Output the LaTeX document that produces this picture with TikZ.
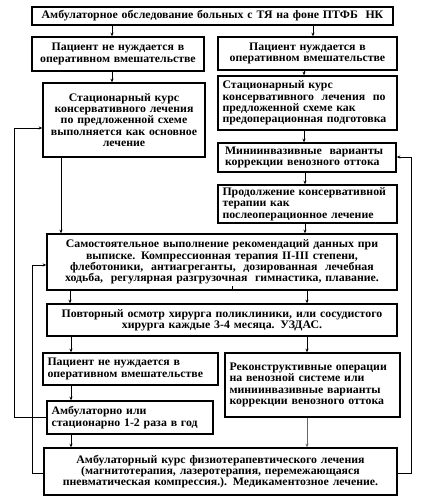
\documentclass[tikz,border=0pt]{standalone}
\usepackage{fontspec}
\setmainfont{Liberation Serif}[FakeStretch=1.03]
\usetikzlibrary{arrows.meta}
\begin{document}
\begin{tikzpicture}[x=1pt,y=-1pt,
  box/.style={draw, line width=1.5pt, inner sep=1.5pt, font=\bfseries\fontsize{11.5}{11.3}\selectfont},
  lbox/.style={box, inner xsep=4.5pt, align=left},
  arr/.style={line width=0.6pt, -{Stealth[length=3.5pt,width=3pt]}},
  ln/.style={line width=0.6pt}]
\fill[white] (0,0) rectangle (422,503);
\useasboundingbox (0,0) rectangle (422,503);
\node[box, minimum width=361pt, minimum height=18pt, text width=357pt, align=center] (top) at (212.5,16) {Амбулаторное обследование больных с ТЯ на фоне ПТФБ\ \ НК};
\node[box, minimum width=172pt, minimum height=34pt, text width=168pt, align=center] (p1) at (118,54) {Пациент не нуждается в\\ оперативном вмешательстве};
\node[box, minimum width=179pt, minimum height=33pt, text width=175pt, align=center] (p2) at (307.5,53.5) {Пациент нуждается в\\ оперативном вмешательстве};
\node[box, minimum width=162pt, minimum height=74pt, text width=158pt, align=center] (s1) at (124,120) {Стационарный курс\\ консервативного лечения\\ по предложенной схеме\\ выполняется как основное\\ лечение};
\node[lbox, minimum width=179pt, minimum height=54pt, text width=170pt] (s2) at (307.5,103) {Стационарный курс\\ консервативного\ \ лечения\ \ по\\ предложенной схеме как\\ предоперационная подготовка};
\node[lbox, minimum width=178pt, minimum height=29pt, text width=164pt, inner xsep=7pt] (m1) at (307,157.5) {Миниинвазивные\ \ варианты\\ коррекции венозного оттока};
\node[lbox, minimum width=179pt, minimum height=38pt, text width=170pt] (pr) at (307.5,204) {Продолжение консервативной\\ терапии как\\ послеоперационное лечение};
\node[box, minimum width=350pt, minimum height=56pt, text width=346pt, align=center] (sa) at (222,262) {Самостоятельное выполнение рекомендаций данных при\\ выписке. Компрессионная терапия II-III степени,\\ флеботоники,\ \ антиагреганты,\ \ дозированная\ \ лечебная\\ ходьба,\ \ регулярная разгрузочная\ \ гимнастика, плавание.};
\node[box, minimum width=350pt, minimum height=32pt, text width=346pt, align=center] (pv) at (222,320) {Повторный осмотр хирурга поликлиники, или сосудистого\\ хирурга каждые 3-4 месяца. УЗДАС.};
\node[lbox, minimum width=175pt, minimum height=32pt, text width=166pt] (p3) at (130.5,369) {Пациент не нуждается в\\ оперативном вмешательстве};
\node[lbox, minimum width=175pt, minimum height=64pt, text width=166pt] (rk) at (312.5,385) {Реконструктивные операции\\ на венозной системе или\\ миниинвазивные варианты\\ коррекции венозного оттока};
\node[lbox, minimum width=166pt, minimum height=33pt, text width=157pt] (am) at (130,417.5) {Амбулаторно или\\ стационарно 1-2 раза в год};
\node[box, minimum width=353pt, minimum height=47pt, text width=349pt, align=center] (ak) at (220.5,471.5) {Амбулаторный курс физиотерапевтического лечения\\ (магнитотерапия, лазеротерапия, перемежающаяся\\ пневматическая компрессия.). Медикаментозное лечение.};
% vertical arrows
\draw[arr] ([xshift=-6pt]p1.north |- top.south) -- ([xshift=-6pt]p1.north);
\draw[arr] ([xshift=5.5pt]p2.north |- top.south) -- ([xshift=5.5pt]p2.north);
\draw[arr] ([xshift=-6pt]p1.south) -- ([xshift=-6pt]p1.south |- s1.north);
\draw[arr] ([xshift=-3.5pt]p2.south) -- ([xshift=-3.5pt]s2.north);
\draw[arr] ([xshift=-3.5pt]s2.south) -- ([xshift=-3.5pt]s2.south |- m1.north);
\draw[arr] ([xshift=-2.5pt]pr.north |- m1.south) -- ([xshift=-2.5pt]pr.north);
\draw[arr] ([xshift=-63pt]s1.south) -- ([xshift=-63pt]s1.south |- sa.north);
\draw[arr] ([xshift=-2.5pt]pr.south) -- ([xshift=-2.5pt]pr.south |- sa.north);
\draw[arr] ([xshift=-152pt]sa.south) -- ([xshift=-152pt]pv.north);
\draw[arr] ([xshift=85pt]sa.south) -- ([xshift=85pt]pv.north);
\draw[ln] ([xshift=10pt]sa.south) -- ++(0,-5);
\draw[arr] ([xshift=-151pt]pv.south) -- ([xshift=-151pt]pv.south |- p3.north);
\draw[arr] ([xshift=85pt]pv.south) -- ([xshift=85pt]pv.south |- rk.north);
\draw[arr] ([xshift=-59.5pt]p3.south) -- ([xshift=-59.5pt]p3.south |- am.north);
\draw[arr] ([xshift=-59pt]am.south) -- ([xshift=-59pt]am.south |- ak.north);
\draw[arr, draw=black!60] ([xshift=-5.5pt]rk.south) -- ([xshift=-5.5pt]rk.south |- ak.north);
% feedback loops
\coordinate (l1) at (14,0);
\coordinate (l2) at (32,0);
\coordinate (r1) at (411,0);
\draw[arr] (am.west) -- (am.west -| l1) -- ([yshift=-8pt]s1.west -| l1) -- ([yshift=-8pt]s1.west);
\draw[arr] ([yshift=-1.5pt]ak.west) -- ([yshift=-1.5pt]ak.west -| l2) -- ([yshift=-3pt]sa.west -| l2) -- ([yshift=-3pt]sa.west);
\draw[arr] ([yshift=-1.5pt]ak.east) -- ([yshift=-1.5pt]ak.east -| r1) -- ([yshift=0.5pt]m1.east -| r1) -- ([yshift=0.5pt]m1.east);
\end{tikzpicture}
\end{document}
